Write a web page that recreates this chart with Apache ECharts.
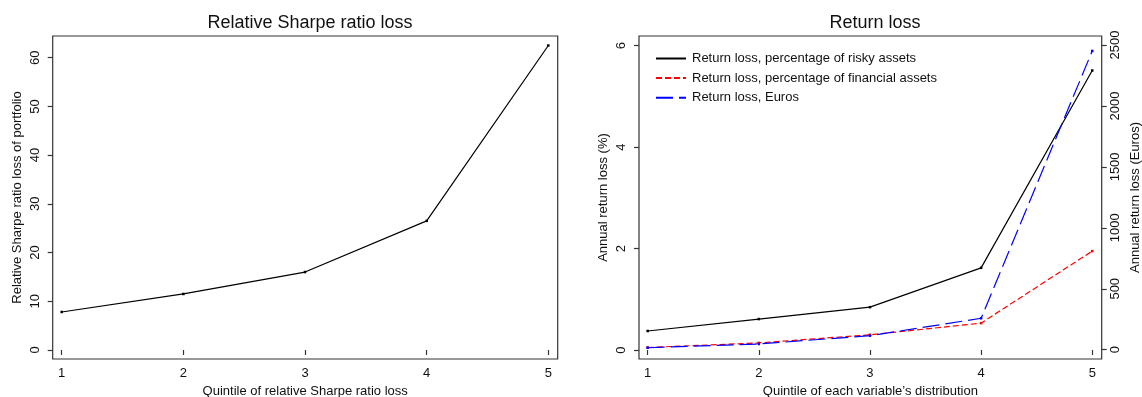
<!DOCTYPE html>
<html>
<head>
<meta charset="utf-8">
<script src="https://cdn.jsdelivr.net/npm/echarts@6/dist/echarts.min.js"></script>
<style>
  html, body { margin: 0; padding: 0; background: #fff; }
  #chart { width: 1142px; height: 397px; }
</style>
</head>
<body>
<div id="chart"></div>
<script>
// Quintiles shared by both panels
const quintiles = [1, 2, 3, 4, 5];

// Left panel: relative Sharpe ratio loss of portfolio
const sharpeLoss = [7.8, 11.5, 16.0, 26.5, 62.5];
const sharpeTicks = [0, 10, 20, 30, 40, 50, 60];

// Right panel: return loss
const riskyPct = [0.375, 0.61, 0.845, 1.62, 5.51];
const financialPct = [0.05, 0.14, 0.30, 0.53, 1.95];
const eurosLoss = [16, 47, 115, 258, 2451];
const pctTicks = [0, 2, 4, 6];
const euroTicks = [0, 500, 1000, 1500, 2000, 2500];

const FONT = '"Liberation Sans", Arial, Helvetica, sans-serif';
const INK = '#111';
const AXIS = '#333';

const pairs = (ys) => quintiles.map((q, i) => [q, ys[i]]);
const plain = (v) => String(v);

function xAxisFor(gridIndex, name, min, max) {
  return {
    type: 'value', gridIndex, min, max,
    name, nameLocation: 'middle', nameGap: 24,
    nameTextStyle: { fontFamily: FONT, fontSize: 13, color: INK },
    axisLine: { show: false },
    axisTick: { show: true, inside: false, length: 5, customValues: quintiles, lineStyle: { color: AXIS, width: 1.2 } },
    axisLabel: { customValues: quintiles, formatter: plain, margin: 8, fontFamily: FONT, fontSize: 13, color: INK },
    splitLine: { show: false }
  };
}

function yAxisFor(gridIndex, name, min, max, ticks, position, nameGap, labelMargin) {
  return {
    type: 'value', gridIndex, min, max, position,
    name, nameLocation: 'middle', nameGap, nameRotate: 90,
    nameTextStyle: { fontFamily: FONT, fontSize: 13, color: INK },
    axisLine: { show: false },
    axisTick: { show: true, inside: false, length: 5, customValues: ticks, lineStyle: { color: AXIS, width: 1.2 } },
    axisLabel: { customValues: ticks, formatter: plain, rotate: 90, margin: labelMargin, fontFamily: FONT, fontSize: 13, color: INK },
    splitLine: { show: false }
  };
}

const lineSeries = (name, xi, yi, ys, color, dash) => ({
  name, type: 'line', xAxisIndex: xi, yAxisIndex: yi,
  data: pairs(ys),
  symbol: 'rect', symbolSize: 2.5,
  itemStyle: { color },
  lineStyle: { color, width: 1.2, type: dash },
  silent: true, animation: false
});

const gridBox = { show: true, borderColor: AXIS, borderWidth: 1.2, backgroundColor: 'transparent', outerBoundsMode: 'none', containLabel: false };

const chart = echarts.init(document.getElementById('chart'), null, { renderer: 'canvas' });
chart.setOption({
  backgroundColor: '#fff',
  animation: false,
  title: [
    { text: 'Relative Sharpe ratio loss', left: 305, top: 9, textAlign: 'center',
      textStyle: { fontFamily: FONT, fontSize: 18, fontWeight: 'normal', color: INK } },
    { text: 'Return loss', left: 870, top: 9, textAlign: 'center',
      textStyle: { fontFamily: FONT, fontSize: 18, fontWeight: 'normal', color: INK } }
  ],
  grid: [
    Object.assign({ left: 52.7, top: 36, width: 505, height: 323 }, gridBox),
    Object.assign({ left: 639, top: 36, width: 462.7, height: 323 }, gridBox)
  ],
  legend: {
    orient: 'vertical', left: 650, top: 47,
    itemWidth: 30, itemHeight: 14, itemGap: 6.6,
    itemStyle: { opacity: 0 },
    textStyle: { fontFamily: FONT, fontSize: 13, color: INK, padding: [0, 0, 0, 1] },
    data: ['Return loss, percentage of risky assets', 'Return loss, percentage of financial assets', 'Return loss, Euros']
  },
  xAxis: [
    xAxisFor(0, 'Quintile of relative Sharpe ratio loss', 0.926, 5.077),
    xAxisFor(1, 'Quintile of each variable\u2019s distribution', 0.922, 5.085)
  ],
  yAxis: [
    yAxisFor(0, 'Relative Sharpe ratio loss of portfolio', -1.85, 64.45, sharpeTicks, 'left', 29, 11),
    yAxisFor(1, 'Annual return loss (%)', -0.177, 6.19, pctTicks, 'left', 29, 11),
    yAxisFor(1, 'Annual return loss (Euros)', -76.3, 2573.8, euroTicks, 'right', 27, 7)
  ],
  series: [
    lineSeries('Relative Sharpe ratio loss', 0, 0, sharpeLoss, '#000', 'solid'),
    lineSeries('Return loss, percentage of risky assets', 1, 1, riskyPct, '#000', 'solid'),
    lineSeries('Return loss, percentage of financial assets', 1, 1, financialPct, '#ff0000', [6, 3]),
    lineSeries('Return loss, Euros', 1, 2, eurosLoss, '#0000ff', [17, 6])
  ]
});
</script>
</body>
</html>
